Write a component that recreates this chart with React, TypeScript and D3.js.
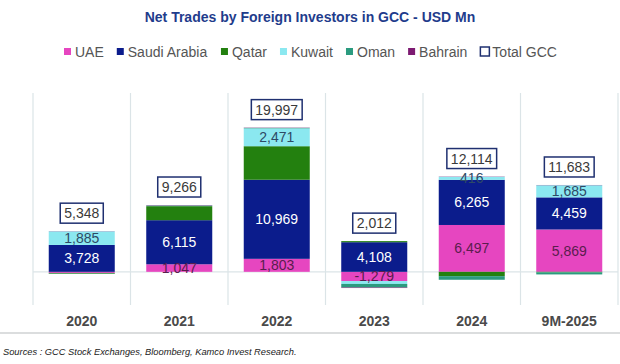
import * as d3 from "d3";

const years = ["2020", "2021", "2022", "2023", "2024", "9M-2025"];
const seriesNames = ["UAE", "Saudi Arabia", "Qatar", "Kuwait", "Oman", "Bahrain"];
const uae = [-150, 1047, 1803, -1279, 6497, 5869];
const saudi = [3728, 6115, 10969, 4108, 6265, 4459];
const qatar = [-100, 1950, 4650, 150, -600, -80];
const kuwait = [1885, 60, 2471, -400, 416, 1685];
const oman = [-40, 44, 70, -500, -500, -280];
const bahrain = [25, 50, 34, -67, 36, 30];
const totalGcc = [5348, 9266, 19997, 2012, 12114, 11683];
const labelledSeries = ["UAE", "Saudi Arabia", "Kuwait"];

const colors: Record<string, string> = {
  UAE: "#e646c0",
  "Saudi Arabia": "#0b1c8c",
  Qatar: "#23800f",
  Kuwait: "#8be8f0",
  Oman: "#2b9b7f",
  Bahrain: "#7d1a72",
};
const labelColors: Record<string, string> = {
  UAE: "#5a1d4e",
  "Saudi Arabia": "#ffffff",
  Kuwait: "#2e4a66",
};

const FONT = "'Liberation Sans', Arial, sans-serif";
const W = 620;
const H = 364;

const measureCtx = document.createElement("canvas").getContext("2d")!;
function textWidth(t: string, font: string) {
  measureCtx.font = font;
  return measureCtx.measureText(t).width;
}

// plain hyphen for negatives, like the source chart
const fmt = (v: number) => v.toLocaleString("en-US");

export default function App() {
  const x = d3
    .scaleBand<string>()
    .domain(years)
    .range([33, 618])
    .paddingInner(0.323)
    .paddingOuter(0.1615);
  const y = d3.scaleLinear().domain([-4600, 24800]).range([305, 93]);

  const rows = years.map((yr, i) => ({
    year: yr,
    UAE: uae[i],
    "Saudi Arabia": saudi[i],
    Qatar: qatar[i],
    Kuwait: kuwait[i],
    Oman: oman[i],
    Bahrain: bahrain[i],
  }));

  const stacked = d3
    .stack<any>()
    .keys(seriesNames)
    .offset(d3.stackOffsetDiverging)(rows);

  const posTop = rows.map((r) =>
    d3.sum(seriesNames, (k) => Math.max(0, (r as any)[k]))
  );

  // legend layout
  const legendFont = `14px ${FONT}`;
  const legendItems = [...seriesNames, "Total GCC"];
  let lx = 64;
  const legendPos = legendItems.map((name) => {
    const p = lx;
    lx += 11 + textWidth(name, legendFont) + 13;
    return p;
  });

  const bw = x.bandwidth();

  return (
    <svg
      width={W}
      height={H}
      style={{ position: "absolute", left: 0, top: 0, background: "#fff" }}
      fontFamily={FONT}
    >
      <text
        x={310}
        y={22}
        textAnchor="middle"
        fontSize={14}
        fontWeight="bold"
        fill="#1f3c8c"
      >
        Net Trades by Foreign Investors in GCC - USD Mn
      </text>

      {/* legend */}
      {legendItems.map((name, i) => (
        <g key={name} transform={`translate(${legendPos[i]},52)`}>
          {name === "Total GCC" ? (
            <rect x={0} y={-5} width={9} height={9} fill="#fff" stroke="#1f3070" strokeWidth={1.5} />
          ) : (
            <rect x={0} y={-4} width={7} height={7} fill={colors[name]} />
          )}
          <text x={name === "Total GCC" ? 12 : 11} y={5} fontSize={14} fill="#555">
            {name}
          </text>
        </g>
      ))}

      {/* vertical category gridlines */}
      {d3.range(years.length + 1).map((i) => {
        const gx = 33 + i * x.step();
        return <line key={i} x1={gx} x2={gx} y1={93} y2={305} stroke="#dbe4e7" strokeWidth={1.2} />;
      })}
      <line x1={33} x2={618} y1={y(0)} y2={y(0)} stroke="#dbe4e7" strokeWidth={1.2} />

      {/* stacked bars */}
      {stacked.map((s) => (
        <g key={s.key}>
          {s.map((d, i) => (
            <rect
              key={i}
              x={x(years[i])}
              width={bw}
              y={y(Math.max(d[0], d[1]))}
              height={Math.abs(y(d[0]) - y(d[1]))}
              fill={colors[s.key]}
            />
          ))}
        </g>
      ))}

      {/* segment labels */}
      {stacked
        .filter((s) => labelledSeries.includes(s.key))
        .map((s) => (
          <g key={s.key}>
            {s.map((d, i) => {
              const v = (rows[i] as any)[s.key];
              if (Math.abs(v) <= 400) return null;
              return (
                <text
                  key={i}
                  x={x(years[i])! + bw / 2}
                  y={y((d[0] + d[1]) / 2) + 5}
                  textAnchor="middle"
                  fontSize={14}
                  fill={labelColors[s.key]}
                >
                  {fmt(v)}
                </text>
              );
            })}
          </g>
        ))}

      {/* total GCC boxes */}
      {totalGcc.map((t, i) => {
        const label = fmt(t);
        const w = textWidth(label, `14px ${FONT}`) + 8;
        const cy = y(posTop[i]) - 18;
        const cx = x(years[i])! + bw / 2;
        return (
          <g key={i}>
            <rect x={cx - w / 2} y={cy - 10} width={w} height={20} fill="#fff" stroke="#1f3070" strokeWidth={1.5} />
            <text x={cx} y={cy + 5} textAnchor="middle" fontSize={14} fill="#3a3a3a">
              {label}
            </text>
          </g>
        );
      })}

      {/* category labels */}
      {years.map((yr) => (
        <text
          key={yr}
          x={x(yr)! + bw / 2}
          y={326}
          textAnchor="middle"
          fontSize={14}
          fontWeight="bold"
          fill="#4a4a4a"
        >
          {yr}
        </text>
      ))}
      <line x1={0} x2={620} y1={333} y2={333} stroke="#b8bcbe" strokeWidth={1.2} />

      <text x={3} y={355} fontSize={9.3} fontStyle="italic" fill="#222">
        Sources : GCC Stock Exchanges, Bloomberg, Kamco Invest Research.
      </text>
    </svg>
  );
}
